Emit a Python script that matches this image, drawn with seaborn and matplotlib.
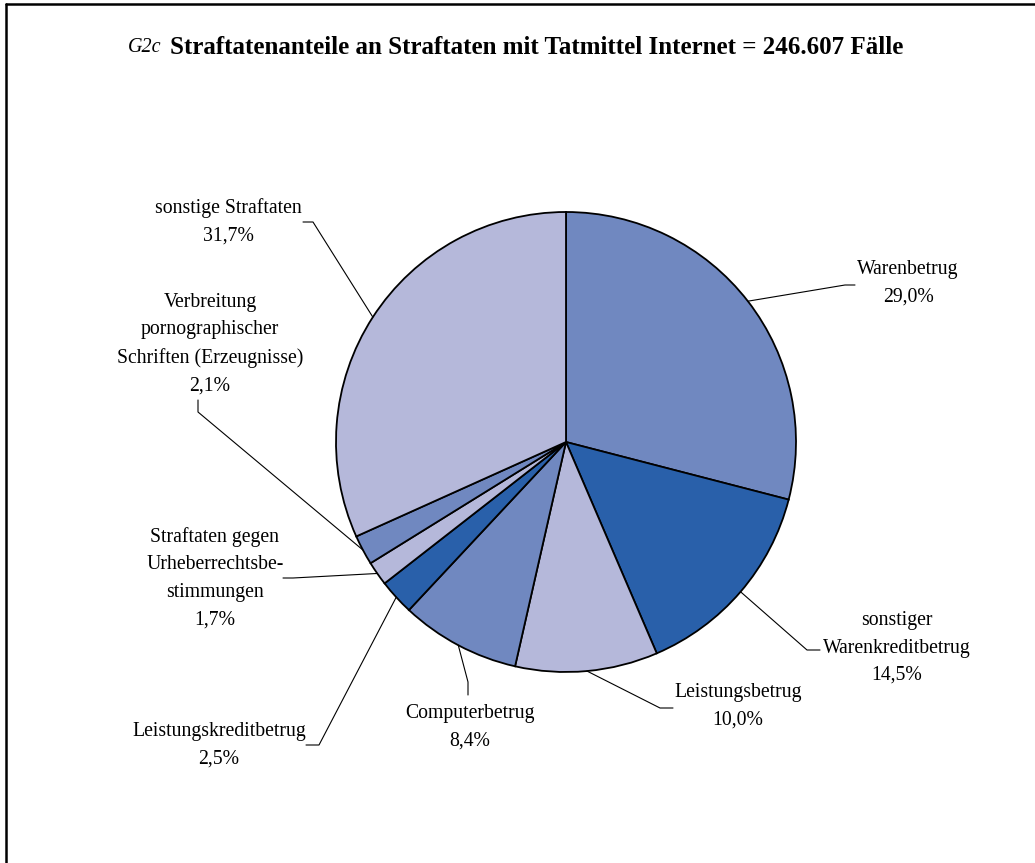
import numpy as np
import seaborn as sns
import matplotlib
matplotlib.use("Agg")
from matplotlib import pyplot as plt

# Daten
kategorien = [
    "Warenbetrug",
    "sonstiger\nWarenkreditbetrug",
    "Leistungsbetrug",
    "Computerbetrug",
    "Leistungskreditbetrug",
    "Straftaten gegen\nUrheberrechtsbe-\nstimmungen",
    "Verbreitung\npornographischer\nSchriften (Erzeugnisse)",
    "sonstige Straftaten",
]
anteile = [29.0, 14.5, 10.0, 8.4, 2.5, 1.7, 2.1, 31.7]
farben = ["#7088C0", "#2960AA", "#B5B8DA", "#7088C0",
          "#2960AA", "#B5B8DA", "#7088C0", "#B5B8DA"]

titel_nr = "G2c"
titel = "Straftatenanteile an Straftaten mit Tatmittel Internet = 246.607 Fälle"

# Layout in Pixeln (Bild 1035 x 863)
W, H = 1035, 863
mitte = (566, 442)
radius = 230
label_pos = [(908, 283), (897, 648), (738, 706), (470, 727),
             (219, 745), (215, 578), (210, 344), (228, 222)]
knick = [
    [(845, 285), (855, 285)],
    [(807, 650), (820, 650)],
    [(660, 708), (673, 708)],
    [(468, 682), (468, 695)],
    [(319, 745), (306, 745)],
    [(293, 578), (283, 578)],
    [(198, 412), (198, 400)],
    [(313, 222), (303, 222)],
]

sns.set_theme(style="white")
plt.rcParams["font.family"] = ["Liberation Serif", "DejaVu Serif"]
plt.rcParams["text.color"] = "black"

fig = plt.figure(figsize=(W / 100, H / 100), dpi=100)
ax = fig.add_axes([0, 0, 1, 1])

wedges, _ = ax.pie(
    anteile,
    colors=sns.color_palette(farben),
    startangle=90,
    counterclock=False,
    center=(mitte[0], H - mitte[1]),
    radius=radius,
    wedgeprops=dict(edgecolor="black", linewidth=1.3),
)

ax.set_xlim(0, W)
ax.set_ylim(0, H)
ax.axis("off")

for w, name, wert, pos, pts in zip(wedges, kategorien, anteile, label_pos, knick):
    winkel = np.deg2rad((w.theta1 + w.theta2) / 2)
    x0 = mitte[0] + radius * np.cos(winkel)
    y0 = (H - mitte[1]) + radius * np.sin(winkel)
    xs = [x0] + [p[0] for p in pts]
    ys = [y0] + [H - p[1] for p in pts]
    ax.plot(xs, ys, color="black", linewidth=0.8)
    text = name + "\n" + f"{wert:.1f}".replace(".", ",") + "%"
    ax.text(pos[0], H - pos[1], text, ha="center", va="center",
            fontsize=14.2, linespacing=1.6, color="black")

# Titel
fig.text(128 / W, 1 - 47 / H, titel_nr, style="italic", fontsize=14.5,
         ha="left", va="center", color="black")
fig.text(170 / W, 1 - 47 / H, titel, weight="bold", fontsize=18,
         ha="left", va="center", color="black")

# Rahmen oben und links
ax.plot([6, W], [H - 4, H - 4], color="black", linewidth=1.8, clip_on=False)
ax.plot([6, 6], [H - 4, 0], color="black", linewidth=1.8, clip_on=False)

fig.savefig("out.png", dpi=100, facecolor="white")
